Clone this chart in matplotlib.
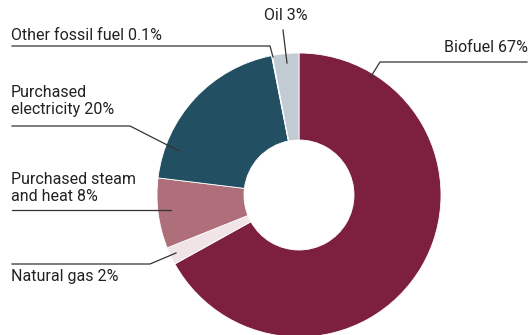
import matplotlib.pyplot as plt

plt.rcParams['font.family'] = ['Roboto', 'DejaVu Sans']

# energy sources, clockwise from 12 o'clock
sources = ['Biofuel', 'Natural gas', 'Purchased steam\nand heat', 'Purchased\nelectricity',
           'Other fossil fuel', 'Oil']
shares = [67, 2, 8, 20, 0.1, 3]
colors = ['#7d1f3f', '#f1e4e6', '#ae6f7a', '#234f63', '#9aa7b2', '#c2cbd3']

W, H = 530, 335
fig = plt.figure(figsize=(W / 100, H / 100), dpi=100)
ax = fig.add_axes([0, 0, 1, 1])

cx, cy, R = 299, H - 195, 142
ax.pie(shares, colors=colors, startangle=90, counterclock=False,
       center=(cx, cy), radius=R,
       wedgeprops=dict(width=87, edgecolor='white', linewidth=0.6))
ax.set_xlim(0, W)
ax.set_ylim(0, H)
ax.set_aspect('equal')
ax.axis('off')

txt = dict(fontsize=11.5, color='#222222')
ln = dict(color='#333333', lw=0.9)


def yy(y):
    # screen-style y (from top) to axes y
    return H - y


# Biofuel
ax.text(528, yy(48), f'{sources[0]} {shares[0]}%', ha='right', va='center', **txt)
ax.plot([527, 380, 370], [yy(62), yy(62), yy(78)], **ln)

# Oil
ax.text(286, yy(15), f'{sources[5]} {shares[5]}%', ha='center', va='center', **txt)
ax.plot([283, 287], [yy(30), yy(63)], **ln)

# Other fossil fuel
ax.text(11, yy(35), f'{sources[4]} {shares[4]}%', ha='left', va='center', **txt)
ax.plot([12, 270, 273], [yy(46), yy(46), yy(57)], **ln)

# Purchased electricity
ax.text(11, yy(101), f'{sources[3]} {shares[3]}%', ha='left', va='center',
        linespacing=1.2, **txt)
ax.plot([12, 130, 179], [yy(126), yy(126), yy(151)], **ln)

# Purchased steam and heat
ax.text(11, yy(188), f'{sources[2]} {shares[2]}%', ha='left', va='center',
        linespacing=1.2, **txt)
ax.plot([12, 171], [yy(210), yy(210)], **ln)

# Natural gas
ax.text(11, yy(277), f'{sources[1]} {shares[1]}%', ha='left', va='center', **txt)
ax.plot([12, 150, 176], [yy(264), yy(264), yy(253)], **ln)

fig.savefig('out.png', dpi=100, facecolor='white')
